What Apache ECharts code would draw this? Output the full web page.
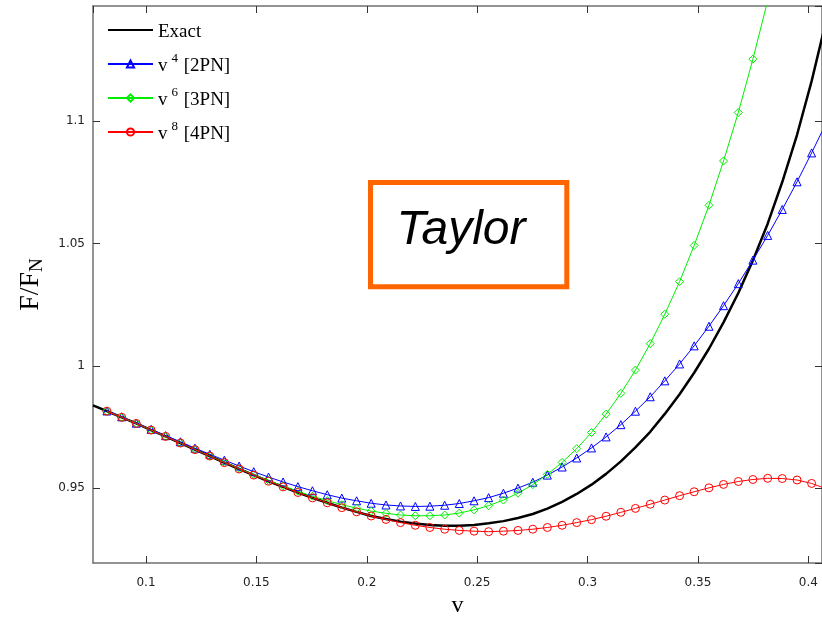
<!DOCTYPE html>
<html>
<head>
<meta charset="utf-8">
<script src="https://cdn.jsdelivr.net/npm/echarts@6/dist/echarts.min.js"></script>
<style>
html,body{margin:0;padding:0;background:#fff;}
#c{width:822px;height:619px;}
</style>
</head>
<body>
<div id="c"></div>
<script>
// ---- data ----
const seriesNames = ['Exact', 'v4', 'v6', 'v8'];
const pnOrder = {v4: '4', v6: '6', v8: '8'};
const pnLabel = {v4: '2PN', v6: '3PN', v8: '4PN'};

// abscissa of the PN marker points
const vPN = [0.0823,0.0890,0.0956,0.1023,0.1089,0.1156,0.1222,0.1289,0.1355,0.1422,
             0.1488,0.1555,0.1621,0.1688,0.1754,0.1821,0.1887,0.1954,0.2020,0.2087,
             0.2153,0.2220,0.2286,0.2353,0.2419,0.2486,0.2552,0.2619,0.2685,0.2752,
             0.2818,0.2885,0.2951,0.3018,0.3084,0.3151,0.3217,0.3284,0.3350,0.3417,
             0.3483,0.3550,0.3616,0.3683,0.3749,0.3816,0.3882,0.3949,0.4015,0.4082];

// v^4 [2PN]
const f2PN = [0.9816,0.9792,0.9766,0.9741,0.9715,0.9690,0.9664,0.9639,0.9615,0.9591,
              0.9568,0.9546,0.9526,0.9507,0.9490,0.9474,0.9460,0.9449,0.9439,0.9432,
              0.9428,0.9426,0.9427,0.9431,0.9438,0.9449,0.9462,0.9480,0.9501,0.9525,
              0.9554,0.9587,0.9624,0.9665,0.9710,0.9760,0.9815,0.9874,0.9939,1.0008,
              1.0082,1.0162,1.0246,1.0336,1.0432,1.0533,1.0639,1.0752,1.0870,1.0994];

// v^6 [3PN]
const f3PN = [0.9815,0.9790,0.9765,0.9738,0.9712,0.9685,0.9659,0.9632,0.9606,0.9581,
              0.9556,0.9532,0.9510,0.9488,0.9468,0.9450,0.9433,0.9419,0.9407,0.9398,
              0.9391,0.9388,0.9388,0.9391,0.9399,0.9412,0.9429,0.9452,0.9480,0.9515,
              0.9557,0.9606,0.9662,0.9728,0.9803,0.9888,0.9983,1.0091,1.0211,1.0344,
              1.0492,1.0656,1.0837,1.1035,1.1253,1.1492,1.1752];

// v^8 [4PN]
const f4PN = [0.9815,0.9790,0.9765,0.9738,0.9712,0.9685,0.9658,0.9632,0.9605,0.9579,
              0.9554,0.9529,0.9506,0.9483,0.9461,0.9441,0.9421,0.9404,0.9387,0.9373,
              0.9360,0.9349,0.9340,0.9333,0.9328,0.9325,0.9323,0.9325,0.9328,0.9333,
              0.9340,0.9349,0.9360,0.9372,0.9386,0.9402,0.9418,0.9435,0.9452,0.9470,
              0.9486,0.9502,0.9516,0.9528,0.9536,0.9541,0.9540,0.9534,0.9520,0.9498];

// Exact curve
const vExact = [0.0760,0.0823,0.0890,0.0956,0.1023,0.1089,0.1156,0.1222,0.1289,0.1355,
                0.1422,0.1488,0.1555,0.1621,0.1688,0.1754,0.1821,0.1887,0.1954,0.2020,
                0.2087,0.2153,0.2220,0.2286,0.2353,0.2419,0.2486,0.2552,0.2619,0.2685,
                0.2752,0.2818,0.2885,0.2951,0.3018,0.3084,0.3151,0.3217,0.3284,0.3350,
                0.3417,0.3483,0.3550,0.3616,0.3683,0.3749,0.3816,0.3882,0.3949,0.4015,0.4070];
const fExact = [0.9839,0.9815,0.9790,0.9765,0.9738,0.9712,0.9685,0.9658,0.9632,0.9605,
                0.9579,0.9554,0.9529,0.9506,0.9483,0.9461,0.9441,0.9421,0.9404,0.9387,
                0.9375,0.9364,0.9356,0.9350,0.9347,0.9347,0.9350,0.9357,0.9366,0.9379,
                0.9395,0.9417,0.9445,0.9477,0.9515,0.9559,0.9610,0.9667,0.9731,0.9804,
                0.9884,0.9972,1.0070,1.0178,1.0298,1.0431,1.0581,1.0751,1.0944,1.1163,1.1370];

// axis ranges / ticks
const xRange = [0.0760, 0.4062];
const yRange = [0.9195, 1.1470];
const tickStep = 0.05;

const annotationText = 'Taylor';
const xName = 'v';

// ---- chart ----
function pairs(xs, ys) { return ys.map((y, i) => [xs[i], y]); }

const serif = "'Liberation Serif','Times New Roman',serif";
const frameColor = '#707070';
const tickColor = '#333';

const chart = echarts.init(document.getElementById('c'), null, {renderer: 'canvas'});

function xAxisDef(pos, labels) {
  return {
    type: 'value', position: pos, min: xRange[0], max: xRange[1],
    minInterval: tickStep, maxInterval: tickStep,
    axisLine: {show: true, onZero: false, lineStyle: {color: frameColor, width: 1.5}},
    axisTick: {show: true, inside: true, length: 7, lineStyle: {color: tickColor, width: 1}},
    axisLabel: {show: labels, margin: 14, fontFamily: 'DejaVu Sans', fontSize: 12, color: '#222',
                showMinLabel: false, showMaxLabel: false},
    splitLine: {show: false},
    name: labels ? xName : '', nameLocation: 'middle', nameGap: 29,
    nameTextStyle: {fontFamily: serif, fontSize: 24, color: '#000'}
  };
}
function yAxisDef(pos, labels) {
  return {
    type: 'value', position: pos, min: yRange[0], max: yRange[1],
    minInterval: tickStep, maxInterval: tickStep,
    axisLine: {show: true, onZero: false, lineStyle: {color: frameColor, width: 1.5}},
    axisTick: {show: true, inside: true, length: 7, lineStyle: {color: tickColor, width: 1}},
    axisLabel: {show: labels, margin: 8, fontFamily: 'DejaVu Sans', fontSize: 12, color: '#222',
                showMinLabel: false, showMaxLabel: false},
    splitLine: {show: false},
    name: labels ? '{a|F/F}{b|N}' : '', nameLocation: 'middle', nameGap: 46, nameRotate: 90,
    nameTextStyle: {
      rich: {
        a: {fontFamily: serif, fontSize: 28, color: '#000', lineHeight: 30, verticalAlign: 'top'},
        b: {fontFamily: serif, fontSize: 19, color: '#000', lineHeight: 19, padding: [23, 0, 0, 0], verticalAlign: 'bottom'}
      }
    }
  };
}

const hollow = c => ({color: 'rgba(255,255,255,0)', borderColor: c, borderWidth: 1});

const option = {
  animation: false,
  backgroundColor: '#fff',
  grid: {left: 93, right: 0, top: 6, bottom: 56, containLabel: false, outerBoundsMode: 'none'},
  xAxis: [xAxisDef('bottom', true), xAxisDef('top', false)],
  yAxis: [yAxisDef('left', true), yAxisDef('right', false)],
  legend: {
    orient: 'vertical', left: 107, top: 23, padding: 0,
    itemWidth: 45, itemHeight: 9, itemGap: 10,
    data: [
      {name: 'Exact', itemStyle: {opacity: 0}},
      {name: 'v4'}, {name: 'v6'}, {name: 'v8'}
    ],
    formatter: n => n === 'Exact' ? '{t|Exact}' :
      '{t|v}{s|' + pnOrder[n] + '}{t| [' + pnLabel[n] + ']}',
    textStyle: {
      rich: {
        t: {fontFamily: serif, fontSize: 19, color: '#000', lineHeight: 24, verticalAlign: 'bottom'},
        s: {fontFamily: serif, fontSize: 13, color: '#000', lineHeight: 14, verticalAlign: 'top', padding: [0, 1, 0, 4]}
      }
    }
  },
  graphic: [
    {type: 'rect', z: 10, shape: {x: 370.5, y: 182.5, width: 196.3, height: 104.3},
     style: {fill: '#fff', stroke: '#FF6600', lineWidth: 5}},
    {type: 'text', z: 11, x: 461, y: 231,
     style: {text: annotationText, fontFamily: "'Liberation Sans', Arial, sans-serif", fontStyle: 'italic',
             fontSize: 48, fill: '#000', align: 'center', verticalAlign: 'middle'}}
  ],
  series: [
    {name: 'Exact', type: 'line', data: pairs(vExact, fExact), symbol: 'none', clip: true,
     lineStyle: {color: '#000', width: 2.5}, itemStyle: {color: '#000'}, z: 2},
    {name: 'v4', type: 'line', data: pairs(vPN, f2PN), symbol: 'triangle', symbolSize: 8,
     showAllSymbol: true, clip: true,
     lineStyle: {color: '#0000FF', width: 1}, itemStyle: hollow('#0000FF'), z: 3},
    {name: 'v6', type: 'line', data: pairs(vPN, f3PN), symbol: 'diamond', symbolSize: 8,
     showAllSymbol: true, clip: true,
     lineStyle: {color: '#00EE00', width: 1}, itemStyle: hollow('#00EE00'), z: 3},
    {name: 'v8', type: 'line', data: pairs(vPN, f4PN), symbol: 'circle', symbolSize: 8,
     showAllSymbol: true, clip: true,
     lineStyle: {color: '#FF0000', width: 1}, itemStyle: hollow('#FF0000'), z: 4}
  ]
};
chart.setOption(option);
</script>
</body>
</html>
